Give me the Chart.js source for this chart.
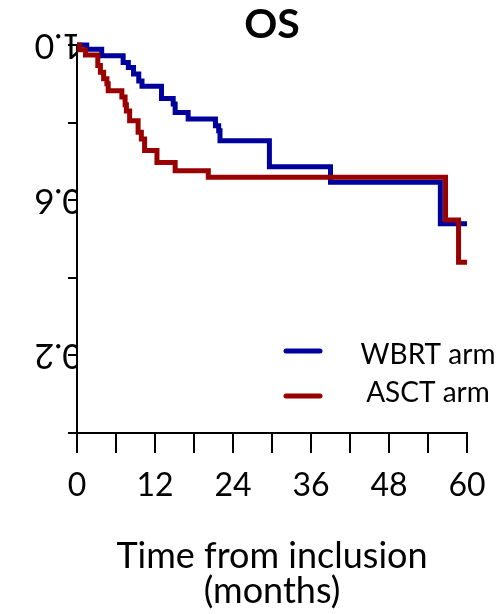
<!DOCTYPE html>
<html lang="en">
<head>
<meta charset="UTF-8">
<title>OS</title>
<script src="https://cdn.jsdelivr.net/npm/chart.js"></script>
<style>
    body { margin: 0; background: #fff; }
    #wrap { width: 503px; height: 614px; }
</style>
</head>
<body>
<div id="wrap"><canvas id="osChart" width="503" height="614"></canvas></div>
<script>
// Kaplan-Meier steps (months, survival after the event)
const wbrtTime = [0, 1.5, 3.8, 7.1, 7.9, 8.7, 9.5, 10.0, 13.0, 14.8, 15.1, 17.1, 21.3, 21.8, 22.0, 29.6, 39.0, 55.9, 60];
const wbrtSurv = [1.0, 0.989, 0.972, 0.955, 0.942, 0.925, 0.907, 0.894, 0.862, 0.848, 0.826, 0.809, 0.792, 0.779, 0.753, 0.686, 0.646, 0.539, 0.539];

const asctTime = [0, 0.4, 1.3, 3.2, 3.6, 4.1, 4.6, 4.8, 6.9, 7.4, 7.6, 8.1, 9.4, 9.9, 10.4, 12.3, 15.1, 20.2, 56.7, 58.7, 60];
const asctSurv = [1.0, 0.988, 0.974, 0.947, 0.930, 0.913, 0.900, 0.882, 0.866, 0.846, 0.830, 0.805, 0.775, 0.758, 0.728, 0.697, 0.676, 0.659, 0.549, 0.440, 0.440];

const seriesNames = ['WBRT arm', 'ASCT arm'];
const xTickLabels = ['0', '12', '24', '36', '48', '60'];
const yTickLabels = ['1.0', '0.6', '0.2'];

const BLUE = '#00009c';
const RED = '#990000';
const FONT = 'Lato';

function toPoints(times, surv) {
    return times.map((t, i) => ({ x: t, y: surv[i] }));
}

// titles and legend drawn on top
const extras = {
    id: 'extras',
    afterDraw(chart) {
        const { ctx, chartArea } = chart;
        const cx = (chartArea.left + chartArea.right) / 2;
        ctx.save();
        ctx.fillStyle = '#000';
        ctx.textAlign = 'center';
        ctx.textBaseline = 'middle';
        ctx.font = 'bold 41px ' + FONT;
        ctx.fillText('OS', cx, 25);
        ctx.font = '36px ' + FONT;
        ctx.fillText('Time from inclusion', cx, 556);
        ctx.fillText('(months)', cx, 591);

        // legend
        ctx.lineWidth = 5;
        ctx.lineCap = 'round';
        [[BLUE, 351, 355], [RED, 396, 393]].forEach(([col, ly, ty], i) => {
            ctx.strokeStyle = col;
            ctx.beginPath();
            ctx.moveTo(286, ly);
            ctx.lineTo(320, ly);
            ctx.stroke();
            ctx.font = '28px ' + FONT;
            ctx.fillText(seriesNames[i], 428, ty);
        });
        ctx.restore();
    }
};

new Chart(document.getElementById('osChart'), {
    type: 'line',
    data: {
        datasets: [
            {
                label: seriesNames[0],
                data: toPoints(wbrtTime, wbrtSurv),
                borderColor: BLUE,
                borderWidth: 5,
                stepped: 'before',
                pointRadius: 0,
                fill: false,
                clip: false,
                order: 2
            },
            {
                label: seriesNames[1],
                data: toPoints(asctTime, asctSurv),
                borderColor: RED,
                borderWidth: 5,
                stepped: 'before',
                pointRadius: 0,
                fill: false,
                clip: false,
                order: 1
            }
        ]
    },
    options: {
        responsive: false,
        animation: false,
        layout: { padding: { left: 0, right: 36, top: 45, bottom: 0 } },
        plugins: {
            legend: { display: false },
            tooltip: { enabled: false }
        },
        scales: {
            x: {
                type: 'linear',
                min: 0,
                max: 60,
                afterFit: s => { s.height = 181; },
                border: { display: true, color: '#000', width: 2 },
                grid: { display: true, drawOnChartArea: false, drawTicks: true, tickLength: 20, color: '#000', lineWidth: 2 },
                ticks: {
                    stepSize: 6,
                    autoSkip: false,
                    maxRotation: 0,
                    padding: 13,
                    color: '#000',
                    font: { family: FONT, size: 32 },
                    callback: v => xTickLabels.includes(String(v)) ? String(v) : ''
                }
            },
            y: {
                type: 'linear',
                min: 0,
                max: 1,
                afterFit: s => { s.width = 77; },
                border: { display: true, color: '#000', width: 2 },
                grid: { display: true, drawOnChartArea: false, drawTicks: true, tickLength: 9, color: '#000', lineWidth: 2 },
                ticks: {
                    stepSize: 0.2,
                    autoSkip: false,
                    minRotation: 180,
                    maxRotation: 180,
                    crossAlign: 'center',
                    padding: -14,
                    color: '#000',
                    font: { family: FONT, size: 34 },
                    callback: v => {
                        const l = Number(v).toFixed(1);
                        return yTickLabels.includes(l) ? l : '';
                    }
                }
            }
        }
    },
    plugins: [extras]
});
</script>
</body>
</html>
